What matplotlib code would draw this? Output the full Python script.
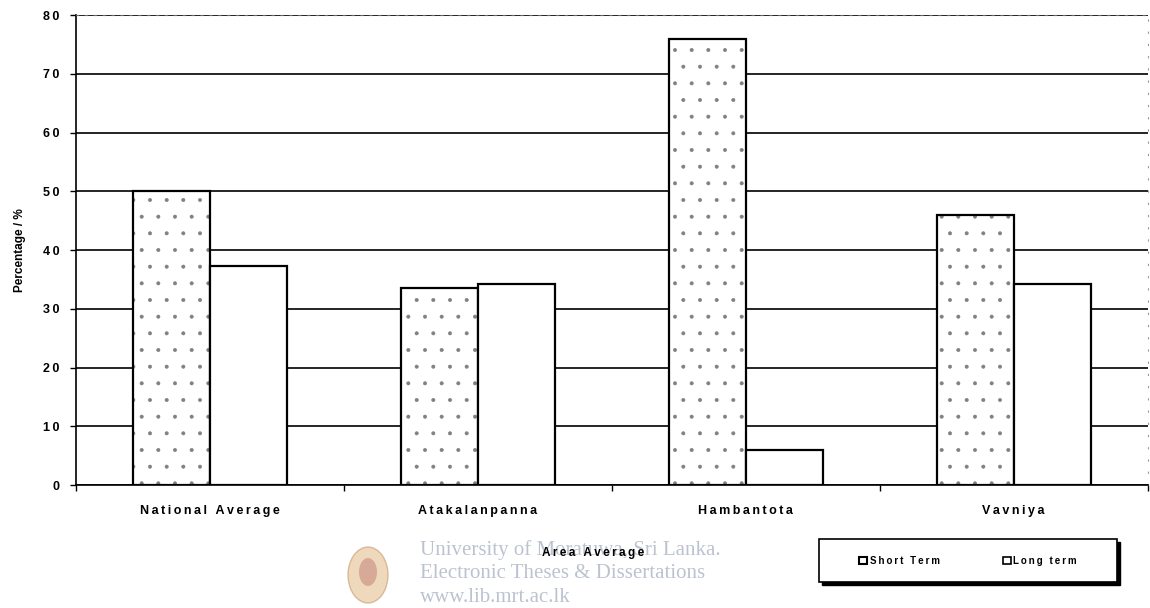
import matplotlib.pyplot as plt
import numpy as np
from matplotlib.patches import Rectangle, Ellipse

# Area averages, percentage of respondents
areas = ['National Average', 'Atakalanpanna', 'Hambantota', 'Vavniya']
short_term = [50, 33.5, 76, 46]
long_term = [37.3, 34.2, 6, 34.3]
yticks = [0, 10, 20, 30, 40, 50, 60, 70, 80]

plt.rcParams['font.family'] = ['Liberation Sans', 'DejaVu Sans']
plt.rcParams['hatch.linewidth'] = 0.4

W, H = 1150, 608


def spaced(s):
    # wide letter spacing like the old spreadsheet chart
    return '\u2009'.join(s)


def fx(px):
    return px / W


def fy(py):
    return 1 - py / H


fig = plt.figure(figsize=(11.5, 6.08), dpi=100)
ax = fig.add_axes([0.066, 0.202, 0.932, 0.773])

x = np.arange(len(areas))
w = 0.288

# speckled fill for short term, then outlines on top
ax.bar(x - w / 2, short_term, w, color='white', edgecolor='#808080',
       hatch='.', linewidth=0, zorder=3)
ax.bar(x - w / 2, short_term, w, color='none', edgecolor='black',
       linewidth=1.6, zorder=4)
ax.bar(x + w / 2, long_term, w, color='white', edgecolor='black',
       linewidth=1.6, zorder=4)

ax.set_xlim(-0.5, len(areas) - 0.5)
ax.set_ylim(0, 80)
ax.set_yticks(yticks)
ax.set_yticklabels([spaced(str(v)) for v in yticks], fontsize=9, fontweight='bold')
ax.yaxis.grid(True, color='black', linewidth=1.2, zorder=1)
ax.set_axisbelow(True)

ax.set_xticks(x)
ax.set_xticklabels([spaced(a) for a in areas], fontsize=9, fontweight='bold')
ax.set_xticks(np.arange(len(areas) + 1) - 0.5, minor=True)
ax.tick_params(axis='x', which='major', length=0, pad=14)
ax.tick_params(axis='x', which='minor', length=4, direction='out', width=1)
ax.tick_params(axis='y', length=4, width=1, direction='out', pad=8)

for side in ['left', 'bottom']:
    ax.spines[side].set_linewidth(1.2)
ax.spines['top'].set_linestyle((0, (2, 6)))
ax.spines['top'].set_color('#666666')
ax.spines['right'].set_linestyle((0, (1, 10)))
ax.spines['right'].set_color('#999999')

ax.set_ylabel('Percentage / %', fontsize=8.5, fontweight='bold', labelpad=12)

# watermark of the thesis repository
fig.patches.append(Ellipse((fx(368), fy(575)), 40 / W, 56 / H,
                           transform=fig.transFigure, facecolor='#d9a25a',
                           edgecolor='#b07030', alpha=0.4, zorder=0))
fig.patches.append(Ellipse((fx(368), fy(572)), 18 / W, 28 / H,
                           transform=fig.transFigure, facecolor='#a04040',
                           alpha=0.3, zorder=0))
wm = ['University of Moratuwa, Sri Lanka.', 'Electronic Theses & Dissertations',
      'www.lib.mrt.ac.lk']
for i, line in enumerate(wm):
    fig.text(fx(420), fy(550 + 23.5 * i), line, fontsize=15,
             family=['Liberation Serif', 'DejaVu Serif'], color='#bcc3d0',
             va='center', ha='left', zorder=0)

fig.text(fx(593), fy(553), spaced('Area Average'), fontsize=8.5,
         fontweight='bold', ha='center', va='center', zorder=5)

# legend box with a solid drop shadow
fig.patches.append(Rectangle((fx(822), fy(585)), 298 / W, 43 / H,
                             transform=fig.transFigure, facecolor='black',
                             edgecolor='black', zorder=1))
fig.patches.append(Rectangle((fx(819), fy(582)), 298 / W, 43 / H,
                             transform=fig.transFigure, facecolor='white',
                             edgecolor='black', linewidth=1.2, zorder=2))

handles = [Rectangle((0, 0), 1, 1, facecolor='white', edgecolor='black', linewidth=1.5),
           Rectangle((0, 0), 1, 1, facecolor='white', edgecolor='black', linewidth=1.2)]
leg = fig.legend(handles, [spaced('Short Term'), spaced('Long term')],
                 loc='center', ncol=2, bbox_to_anchor=(fx(968), fy(561)),
                 prop={'size': 7, 'weight': 'bold'}, handlelength=0.8,
                 handleheight=0.8, handletextpad=0.3, columnspacing=6.5,
                 frameon=False)
leg.set_zorder(3)

fig.savefig('out.png', dpi=100)
